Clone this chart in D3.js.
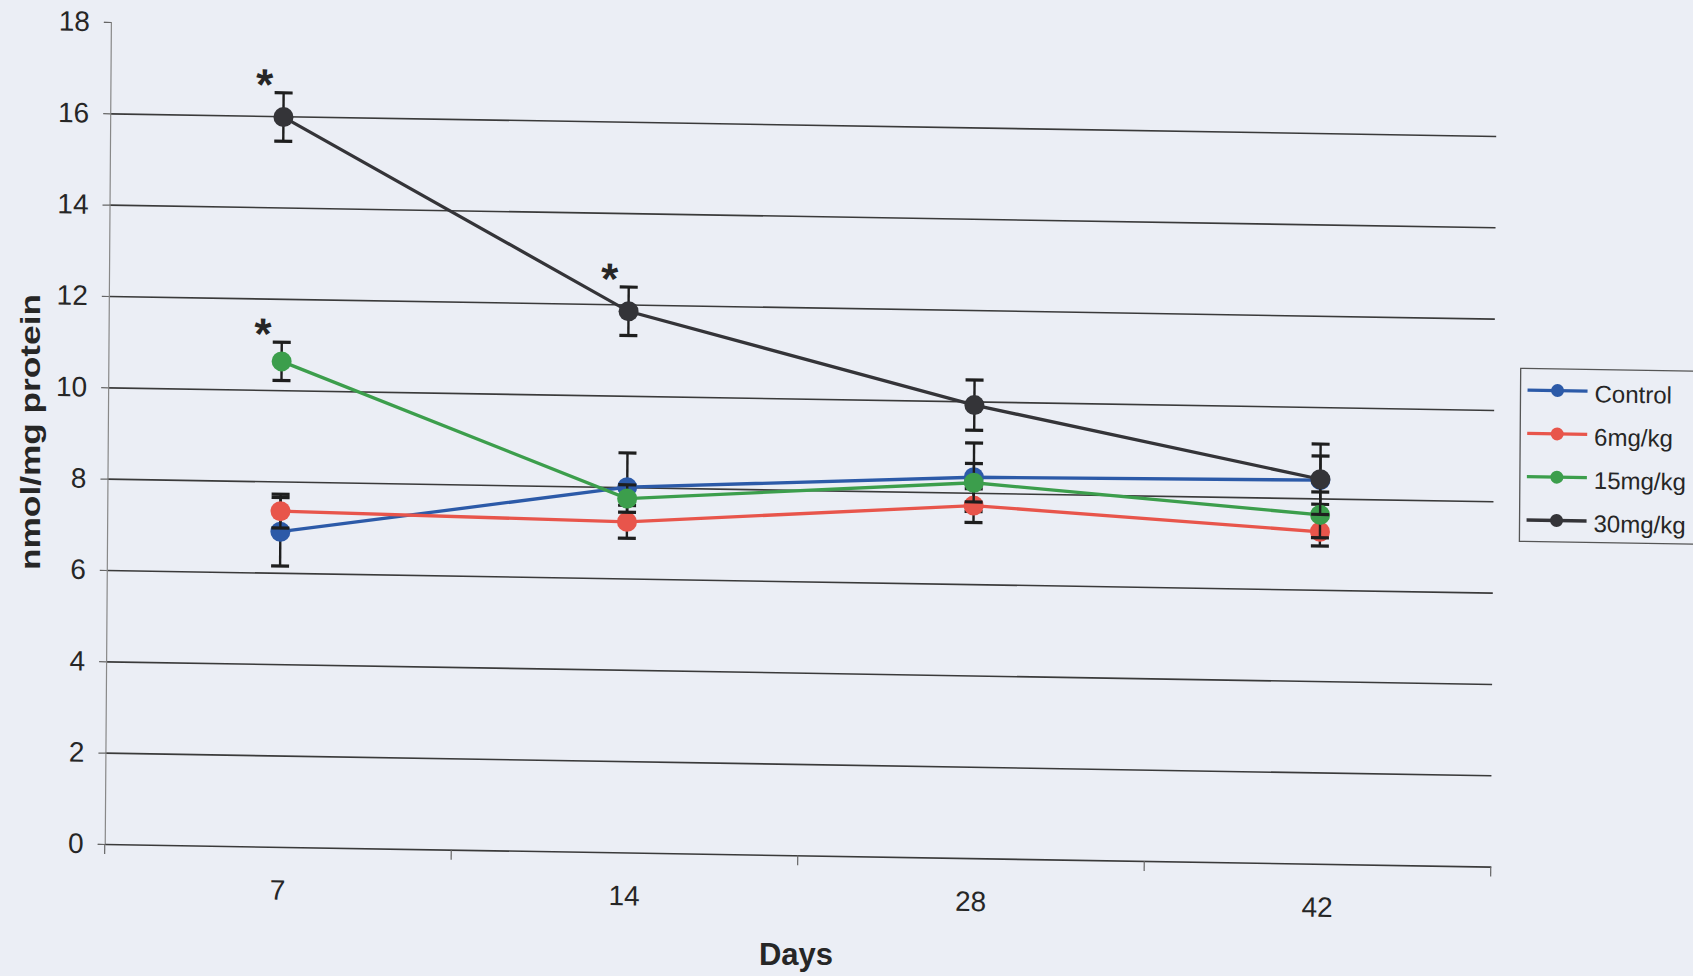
<!DOCTYPE html>
<html>
<head>
<meta charset="utf-8">
<script src="https://cdn.jsdelivr.net/npm/d3@7"></script>
<style>
  body { margin: 0; background: #ebeef5; overflow: hidden; }
  svg { display: block; }
  text { font-family: "Liberation Sans", Arial, sans-serif; fill: #262626; }
</style>
</head>
<body>
<script>
(function(){

//chart values
var days = ["7", "14", "28", "42"];
var seriesNames = ["Control", "6mg/kg", "15mg/kg", "30mg/kg"];
var controlVals = [6.9, 8.0, 8.34, 8.4];
var mg6Vals = [7.35, 7.24, 7.72, 7.27];
var mg15Vals = [10.63, 7.75, 8.22, 7.64];
var mg30Vals = [15.98, 11.85, 9.92, 8.42];
var controlErr = [0.75, 0.75, 0.75, 0.53];
var mg6Err = [0.37, 0.36, 0.37, 0.31];
var mg15Err = [0.42, 0.3, 0.42, 0.5];
var mg30Err = [0.53, 0.53, 0.55, 0.77];
var yTicks = [0, 2, 4, 6, 8, 10, 12, 14, 16, 18];
var gridTicks = [2, 4, 6, 8, 10, 12, 14, 16];
//significance marks: series index + day
var stars = [{s: 3, day: "7"}, {s: 2, day: "7"}, {s: 3, day: "14"}];

var colors = ["#2c5aa8", "#e8554b", "#3c9e4c", "#343438"];
var allVals = [controlVals, mg6Vals, mg15Vals, mg30Vals];
var allErr = [controlErr, mg6Err, mg15Err, mg30Err];

var width = 1693, height = 976;
var plotW = 1386, plotH = 822;
//the scan is a little skewed, so is the plot frame
var skew = "matrix(1,0.0163,-0.0075,1,110.9,22)";

var svg = d3.select("body").append("svg")
    .attr("width", width)
    .attr("height", height);

svg.append("rect")
    .attr("width", width)
    .attr("height", height)
    .attr("fill", "#ebeef5");

var g = svg.append("g").attr("transform", skew);

var x = d3.scaleBand().domain(days).range([0, plotW]);
var y = d3.scaleLinear().domain([0, 18]).range([plotH, 0]);
function cx(d){ return x(d) + x.bandwidth() / 2; }

//gridlines
g.append("g")
    .attr("class", "grid")
    .call(d3.axisLeft(y).tickValues(gridTicks).tickSize(-plotW).tickFormat(""))
    .call(function(s){
        s.select(".domain").remove();
        s.selectAll("line").attr("stroke", "#3a3a3a").attr("stroke-width", 1.6);
    });

//y axis
g.append("g")
    .call(d3.axisLeft(y).tickValues(yTicks).tickSize(7).tickPadding(14))
    .call(function(s){
        s.select(".domain").attr("stroke", "#888").attr("stroke-width", 1.2);
        s.selectAll("line").attr("stroke", "#666").attr("stroke-width", 1.2);
        s.selectAll("text").attr("font-size", 28).attr("fill", "#262626")
            .attr("font-family", "Liberation Sans, Arial, sans-serif");
    });

//x axis: labels at category centres, ticks between categories
g.append("g")
    .attr("transform", "translate(0," + plotH + ")")
    .call(d3.axisBottom(x).tickSize(0).tickPadding(33))
    .call(function(s){
        s.select(".domain").attr("stroke", "#3a3a3a").attr("stroke-width", 1.6);
        s.selectAll("text").attr("font-size", 28).attr("fill", "#262626")
            .attr("font-family", "Liberation Sans, Arial, sans-serif");
    });

var bounds = days.map(function(d){ return x(d); }).concat([plotW]);
g.append("g").selectAll("line")
    .data(bounds)
    .enter()
    .append("line")
    .attr("x1", function(d){ return d; })
    .attr("x2", function(d){ return d; })
    .attr("y1", plotH)
    .attr("y2", plotH + 10)
    .attr("stroke", "#666")
    .attr("stroke-width", 1.2);

var line = d3.line()
    .x(function(d){ return cx(d.day); })
    .y(function(d){ return y(d.v); });

//one group per series: error bars, line, markers
allVals.forEach(function(vals, i){
    var pts = days.map(function(d, j){
        return {day: d, v: vals[j], e: allErr[i][j]};
    });
    var sg = g.append("g").attr("class", "series");

    var eb = sg.selectAll(".err")
        .data(pts)
        .enter()
        .append("g")
        .attr("class", "err");
    eb.append("line")
        .attr("x1", function(d){ return cx(d.day); })
        .attr("x2", function(d){ return cx(d.day); })
        .attr("y1", function(d){ return y(d.v + d.e); })
        .attr("y2", function(d){ return y(d.v - d.e); })
        .attr("stroke", "#1e1e1e")
        .attr("stroke-width", 2.4);
    [1, -1].forEach(function(sign){
        eb.append("line")
            .attr("x1", function(d){ return cx(d.day) - 9; })
            .attr("x2", function(d){ return cx(d.day) + 9; })
            .attr("y1", function(d){ return y(d.v + sign * d.e); })
            .attr("y2", function(d){ return y(d.v + sign * d.e); })
            .attr("stroke", "#1e1e1e")
            .attr("stroke-width", 3.2);
    });

    sg.append("path")
        .datum(pts)
        .attr("d", line)
        .attr("fill", "none")
        .attr("stroke", colors[i])
        .attr("stroke-width", 3.3);

    sg.selectAll(".dot")
        .data(pts)
        .enter()
        .append("circle")
        .attr("class", "dot")
        .attr("cx", function(d){ return cx(d.day); })
        .attr("cy", function(d){ return y(d.v); })
        .attr("r", 10)
        .attr("fill", colors[i]);
});

//asterisks
g.selectAll(".star")
    .data(stars)
    .enter()
    .append("text")
    .attr("class", "star")
    .attr("x", function(d){ return cx(d.day) - 19; })
    .attr("y", function(d){
        var j = days.indexOf(d.day);
        return y(allVals[d.s][j] + allErr[d.s][j]) - 17 + 24;
    })
    .attr("text-anchor", "middle")
    .attr("font-size", 44)
    .attr("font-weight", "bold")
    .text("*");

//axis titles
svg.append("text")
    .attr("transform", "translate(39.5,432) rotate(-90)")
    .attr("text-anchor", "middle")
    .attr("font-size", 28)
    .attr("font-weight", "bold")
    .attr("textLength", 276)
    .attr("lengthAdjust", "spacingAndGlyphs")
    .text("nmol/mg protein");

svg.append("text")
    .attr("x", 796)
    .attr("y", 965)
    .attr("text-anchor", "middle")
    .attr("font-size", 31)
    .attr("font-weight", "bold")
    .text("Days");

//legend
var legend = svg.append("g")
    .attr("transform", "translate(1520.7,368.3) matrix(1,0.0163,-0.0075,1,0,0)");

legend.append("rect")
    .attr("width", 220)
    .attr("height", 173)
    .attr("fill", "none")
    .attr("stroke", "#555")
    .attr("stroke-width", 1.3);

var items = legend.selectAll(".item")
    .data(seriesNames)
    .enter()
    .append("g")
    .attr("class", "item")
    .attr("transform", function(d, i){ return "translate(0," + (21.7 + i * 43.3) + ")"; });

items.append("line")
    .attr("x1", 7)
    .attr("x2", 67)
    .attr("stroke", function(d, i){ return colors[i]; })
    .attr("stroke-width", 3.3);

items.append("circle")
    .attr("cx", 37)
    .attr("r", 6.5)
    .attr("fill", function(d, i){ return colors[i]; });

items.append("text")
    .attr("x", 74)
    .attr("y", 11)
    .attr("font-size", 24)
    .text(function(d){ return d; });

})();
</script>
</body>
</html>
